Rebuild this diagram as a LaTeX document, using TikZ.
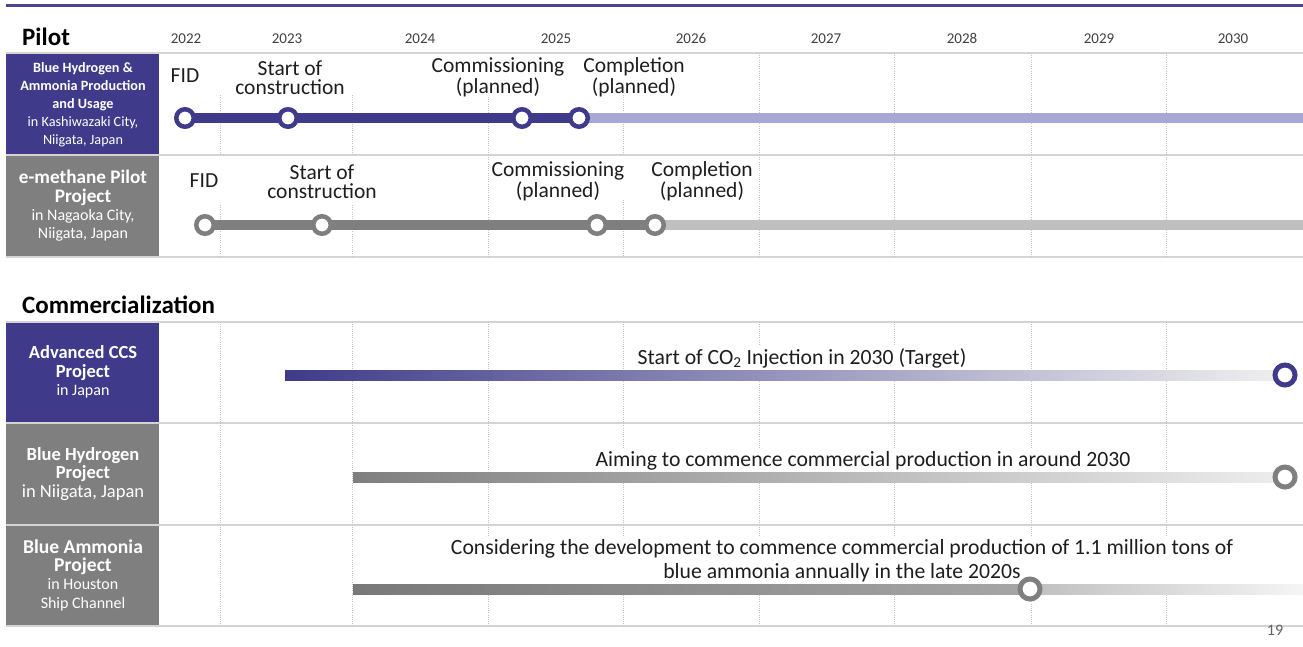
\documentclass[tikz,border=0pt]{standalone}
\usepackage{fontspec}
\setmainfont{Carlito}
\usetikzlibrary{calc}
\pgfdeclarelayer{back}
\pgfsetlayers{back,main}
\definecolor{indigo}{HTML}{3F3B8A}
\definecolor{lilac}{HTML}{A9A7D6}
\definecolor{slate}{HTML}{7F7F7F}
\definecolor{silver}{HTML}{BFBFBF}
\definecolor{rulegray}{HTML}{D4D4D4}
\definecolor{dotgray}{HTML}{C4C4C4}
\definecolor{ink}{HTML}{1E1E1E}
\definecolor{headline}{HTML}{4B478F}
\definecolor{fadeA}{HTML}{8E8DA2}
\newcommand\projname[2][18.5]{\textbf{\fontsize{#1}{18.3}\selectfont #2}}

\begin{document}
\begin{tikzpicture}[x=1pt,y=-1pt,
  hrule/.style={draw=rulegray,line width=1.5pt},
  vrule/.style={draw=dotgray,line width=0.8pt,dash pattern=on 0.9pt off 1.3pt},
  boxtext/.style={text=white,align=center,inner sep=0pt,font=\fontsize{16}{18.3}\selectfont},
  year/.style={anchor=base,text=ink!85,inner sep=0pt,font=\fontsize{15}{18}\selectfont},
  heading/.style={anchor=base west,inner sep=0pt,text=black,font=\fontsize{25}{30}\selectfont\bfseries},
  event/.style={anchor=base,align=center,text=ink,inner sep=0pt,font=\fontsize{21.5}{19}\selectfont},
  note/.style={anchor=base,align=center,text=ink,fill=white,inner xsep=4pt,inner ysep=2pt,font=\fontsize{21.7}{23.5}\selectfont},
  milestone/.style={circle,draw=#1,fill=white,line width=4.5pt,minimum size=17.5pt,inner sep=0pt},
  target/.style={circle,draw=#1,fill=white,line width=5pt,minimum size=20pt,inner sep=0pt},
  track/.style={draw=#1,line width=10pt},
]
\useasboundingbox (0,0) rectangle (1303,646);

% headline rule
\draw[headline,line width=3pt] (6,5) -- (1303,5);

% section headings and the year scale
\node[heading] (pilot) at (22,45) {Pilot};
\node[heading] (comm) at (22,313) {Commercialization};
\foreach \yr/\x in {2022/186,2023/287,2024/420,2025/556,2026/691,2027/826,2028/962,2029/1099,2030/1233}
  \node[year] (y\yr) at (\x,43) {\yr};

% project name boxes
\fill[indigo] (6,54) rectangle (159,154);
\fill[slate]  (6,156) rectangle (159,256);
\fill[indigo] (6,323) rectangle (159,422);
\fill[slate]  (6,424) rectangle (159,524);
\fill[slate]  (6,526) rectangle (159,625);

\node[boxtext,font=\fontsize{14.2}{18}\selectfont] (pb1) at (83,105)
  {\textbf{Blue Hydrogen \&}\\\textbf{Ammonia Production}\\\textbf{and Usage}\\in Kashiwazaki City,\\Niigata, Japan};
\node[boxtext] (pb2) at (83,206)
  {\projname[19.2]{e-methane Pilot}\\\projname[19.2]{Project}\\in Nagaoka City,\\Niigata, Japan};
\node[boxtext] (cb1) at (83,372)
  {\projname{Advanced CCS}\\\projname{Project}\\in Japan};
\node[boxtext] (cb2) at (83,474)
  {\projname{Blue Hydrogen}\\\projname{Project}\\{\fontsize{18.5}{18.3}\selectfont in Niigata, Japan}};
\node[boxtext] (cb3) at (83,575)
  {\projname[19.6]{Blue Ammonia}\\\projname[19.6]{Project}\\in Houston\\Ship Channel};

% pilot milestones
\node[milestone=indigo] (m11) at (185,118) {};
\node[milestone=indigo] (m12) at (288,118) {};
\node[milestone=indigo] (m13) at (522,118) {};
\node[milestone=indigo] (m14) at (579,118) {};
\coordinate (e1) at (1303,118);
\node[milestone=slate] (m21) at (205,225) {};
\node[milestone=slate] (m22) at (322,225) {};
\node[milestone=slate] (m23) at (597,225) {};
\node[milestone=slate] (m24) at (655,225) {};
\coordinate (e2) at (1303,225);

\node[event] (l11) at (185,82) {FID};
\node[event] (l12) at (290,94) {Start of\\construction};
\node[event] (l13) at (498,93) {Commissioning\\(planned)};
\node[event] (l14) at (634,93) {Completion\\(planned)};
\node[event] (l21) at (204,187) {FID};
\node[event] (l22) at (322,198) {Start of\\construction};
\node[event] (l23) at (558,197) {Commissioning\\(planned)};
\node[event] (l24) at (702,197) {Completion\\(planned)};

% commercialization notes, then their targets on top
\node[note] (na) at (802,364) {Start of CO\textsubscript{2} Injection in 2030 (Target)};
\node[note] (nb) at (863,466) {Aiming to commence commercial production in around 2030};
\node[note] (nc) at (842,578) {Considering the development to commence commercial production of 1.1 million tons of\\blue ammonia annually in the late 2020s};

\coordinate (a0) at (285,375);
\node[target=indigo] (ta) at (1285,375) {};
\coordinate (b0) at (353,477);
\node[target=slate] (tb) at (1285,477) {};
\coordinate (c0) at (353,589);
\node[target=slate] (tc) at (1030,589) {};
\coordinate (c1) at (1303,589);

\node[anchor=base,inner sep=0pt,text=ink!70,font=\fontsize{16}{18}\selectfont] (pg) at (1275,635) {19};

\begin{pgfonlayer}{back}
  % row rules
  \foreach \y in {53,155,257,322,423,525,626}
    \draw[hrule] (6,\y) -- (1303,\y);
  % year separators (broken where the labels sit)
  \foreach \x/\a/\b in {220/95/205,352/95/205,488/97/155,623/95/200,759/53/155,894/53/155,1031/53/155,1166/53/155}{
    \draw[vrule] (\x,\a) -- (\x,155);
    \draw[vrule] (\x,\b) -- (\x,257);
    \draw[vrule] (\x,322) -- (\x,626);
  }
  % pilot tracks
  \draw[track=indigo] (m11.center) -- (m14.center);
  \draw[track=lilac] (m14.center) -- (e1);
  \draw[track=slate] (m21.center) -- (m24.center);
  \draw[track=silver] (m24.center) -- (e2);
  % commercialization tracks
  \shade[left color=indigo,middle color=fadeA,right color=gray!12] ($(a0)+(0,-5)$) rectangle ($(ta.center)+(0,5)$);
  \shade[left color=slate,middle color=gray!65,right color=gray!14] ($(b0)+(0,-5)$) rectangle ($(tb.center)+(0,5)$);
  \shade[left color=slate!95!black,right color=gray!70] ($(c0)+(0,-5)$) rectangle ($(tc.center)+(0,5)$);
  \shade[left color=gray!50,right color=gray!8] ($(tc.center)+(0,-5)$) rectangle ($(c1)+(0,5)$);
\end{pgfonlayer}
\end{tikzpicture}
\end{document}
